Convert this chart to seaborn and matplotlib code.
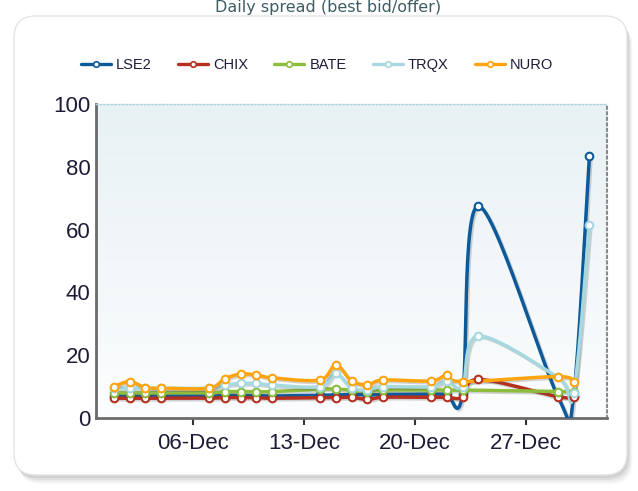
import numpy as np
import pandas as pd
import matplotlib
matplotlib.use('Agg')
import matplotlib.pyplot as plt
import matplotlib.dates as mdates
import matplotlib.patheffects as pe
from matplotlib.patches import FancyBboxPatch
from matplotlib.transforms import IdentityTransform
from matplotlib.lines import Line2D
from matplotlib.colors import LinearSegmentedColormap
import seaborn as sns

# trading days of Dec 2009
days = [1, 2, 3, 4, 7, 8, 9, 10, 11, 14, 15, 16, 17, 18, 21, 22, 23, 24, 29, 30, 31]
lse2 = [7.0, 7.0, 7.0, 7.0, 7.0, 7.2, 7.2, 7.2, 7.0, 7.3, 7.3, 7.5, 7.3, 7.5, 7.6, 7.6, 7.5, 67.5, 7.0, 7.0, 83.4]
chix = [6.3, 6.3, 6.3, 6.3, 6.3, 6.5, 6.5, 6.5, 6.3, 6.5, 6.5, 6.6, 5.9, 6.6, 6.6, 6.6, 6.6, 12.3, 6.8, 6.8, np.nan]
bate = [8.0, 8.0, 8.0, 8.0, 8.0, 8.4, 8.4, 8.4, 8.4, 9.2, 9.2, 8.9, 8.4, 8.9, 8.9, 8.9, 8.9, np.nan, 8.4, 8.4, np.nan]
trqx = [9.5, 9.5, 9.5, 9.5, 9.5, 10.5, 11.0, 11.0, 10.5, 10.0, 14.2, 9.5, 9.0, 10.0, 10.0, 11.8, 10.0, 26.1, 13.0, 8.0, 61.5]
nuro = [10.0, 11.6, 9.7, 9.5, 9.5, 12.5, 14.0, 13.7, 12.8, 12.1, 16.9, 11.8, 10.6, 12.1, 11.8, 13.6, 11.6, np.nan, 13.2, 11.5, np.nan]

names = ['LSE2', 'CHIX', 'BATE', 'TRQX', 'NURO']
colors = ['#0d5a9a', '#b5301f', '#8cbd3c', '#a6d9df', '#ffa40f']
series = [lse2, chix, bate, trqx, nuro]
ticks = [6, 13, 20, 27]


def spline(x, y, n=30):
    # catmull-rom through the points, like the original chart's spline lines
    P = np.column_stack([x, y])
    P = np.vstack([P[0], P, P[-1]])
    t = np.linspace(0, 1, n)[:, None]
    h00 = 2 * t**3 - 3 * t**2 + 1
    h10 = t**3 - 2 * t**2 + t
    h01 = -2 * t**3 + 3 * t**2
    h11 = t**3 - t**2
    out = []
    for i in range(1, len(P) - 2):
        m1 = (P[i + 1] - P[i - 1]) / 2
        m2 = (P[i + 2] - P[i]) / 2
        out.append(h00 * P[i] + h10 * m1 + h01 * P[i + 1] + h11 * m2)
    return np.vstack(out)


sns.set_style('white')
plt.rcParams['font.family'] = ['Liberation Sans', 'DejaVu Sans']

fig = plt.figure(figsize=(6.38, 4.91), dpi=100)

# card with soft shadow
for k, a in [(9, 0.05), (7, 0.07), (5, 0.09), (3, 0.12)]:
    fig.patches.append(FancyBboxPatch((14 + k * 0.6, 16 - k), 613, 459,
                                      boxstyle='round,pad=0,rounding_size=22',
                                      transform=IdentityTransform(), fc='#666666',
                                      ec='none', alpha=a, zorder=0))
fig.patches.append(FancyBboxPatch((14, 16), 613, 459,
                                  boxstyle='round,pad=0,rounding_size=22',
                                  transform=IdentityTransform(), fc='white',
                                  ec='#e4e4e4', lw=1, zorder=1))

fig.text(328 / 638, 1 - 12 / 491, 'Daily spread (best bid/offer)', ha='center',
         va='baseline', fontsize=11.5, color='#3d5c63', family='DejaVu Sans', zorder=5)

ax = fig.add_axes([96 / 638, 1 - 418 / 491, 511 / 638, 314 / 491])
ax.set_zorder(2)
ax.patch.set_alpha(0)

grad = LinearSegmentedColormap.from_list('bg', ['#e8f1f4', '#fcfdfe'])
ax.imshow(np.linspace(0, 1, 256).reshape(-1, 1), cmap=grad, extent=[0, 1, 0, 1],
          transform=ax.transAxes, aspect='auto', zorder=0)

dnum = mdates.date2num(pd.to_datetime(['2009-12-%02d' % d for d in days]))

shadow = [pe.SimpleLineShadow(offset=(1.2, -1.2), shadow_color='#555555', alpha=0.25),
          pe.Normal()]
for name, vals, c in zip(names, series, colors):
    v = np.array(vals, dtype=float)
    ok = ~np.isnan(v)
    cur = spline(dnum[ok], v[ok])
    sns.lineplot(x=cur[:, 0], y=cur[:, 1], sort=False, estimator=None, color=c,
                 lw=2.5, ax=ax, zorder=3, path_effects=shadow)
for name, vals, c in zip(names, series, colors):
    v = np.array(vals, dtype=float)
    ok = ~np.isnan(v)
    sns.scatterplot(x=dnum[ok], y=v[ok], marker='o', s=30, facecolor='white',
                    edgecolor=c, linewidth=1.5, ax=ax, zorder=4)

ax.set_xlim(mdates.date2num(pd.Timestamp('2009-11-29')) + 0.88,
            mdates.date2num(pd.Timestamp('2010-01-01')) + 0.11)
ax.set_ylim(0, 100)
ax.set_xticks(mdates.date2num(pd.to_datetime(['2009-12-%02d' % d for d in ticks])))
ax.xaxis.set_major_formatter(mdates.DateFormatter('%d-%b'))
ax.set_yticks([0, 20, 40, 60, 80, 100])
ax.tick_params(axis='x', direction='out', length=5, width=1.5, color='#333333',
               pad=6, labelsize=16, labelcolor='#1c1c38', bottom=True)
ax.tick_params(axis='y', length=0, pad=4, labelsize=16, labelcolor='#1c1c38')

for s in ['left', 'bottom']:
    ax.spines[s].set_color('#6b6b6b')
    ax.spines[s].set_linewidth(2)
    ax.spines[s].set_path_effects([pe.withSimplePatchShadow(offset=(2, -2), alpha=0.35)])
ax.spines['top'].set_color('#a9d3da')
ax.spines['top'].set_linestyle(':')
ax.spines['top'].set_linewidth(1)
ax.spines['right'].set_color('#8a8a8a')
ax.spines['right'].set_linestyle(':')
ax.spines['right'].set_linewidth(1.5)

handles = [Line2D([], [], color=c, lw=2.4, marker='o', ms=4, mfc='white', mec=c, mew=1.2)
           for c in colors]
fig.legend(handles, names, loc='center', bbox_to_anchor=(317 / 638, 1 - 65 / 491),
           ncol=5, frameon=False, fontsize=10.5, handlelength=2.05, handletextpad=0.35,
           columnspacing=1.8, labelcolor='#1c1c38')

fig.savefig('out.png', dpi=100)
